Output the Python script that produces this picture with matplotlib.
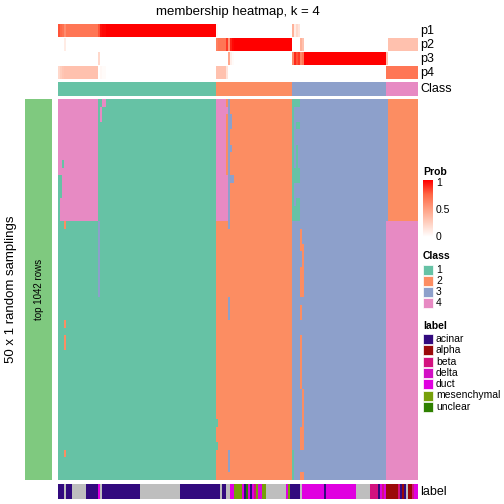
import numpy as np
import matplotlib.pyplot as plt
from matplotlib.colors import ListedColormap, LinearSegmentedColormap
from matplotlib.patches import Rectangle

plt.rcParams['font.family'] = ['Liberation Sans', 'DejaVu Sans']

# ---- data ----
n_rows = 50
# consensus class of each column, as (class, number of columns)
class_runs = [(1, 79), (2, 38), (3, 47), (4, 16)]
# blocks in the sampling matrix that differ from the column class:
# (row_start, row_end, col_start, col_end, class)
overrides = [
    (0, 16, 0, 20, 4), (8, 9, 2, 3, 1), (10, 13, 0, 2, 1), (13, 16, 0, 1, 1),
    (16, 17, 3, 4, 2), (29, 30, 3, 4, 2), (31, 33, 3, 4, 2), (46, 47, 3, 4, 2),
    (16, 26, 20, 21, 3), (1, 3, 21, 22, 4), (0, 1, 22, 24, 4),
    (0, 16, 79, 85, 4), (0, 1, 84, 85, 2), (2, 10, 84, 85, 2),
    (0, 17, 85, 86, 3), (26, 29, 85, 86, 3), (46, 49, 85, 86, 3),
    (2, 4, 86, 87, 3), (6, 7, 86, 87, 3), (10, 11, 86, 88, 3),
    (42, 43, 79, 80, 1), (45, 46, 79, 80, 1),
    (0, 16, 117, 118, 1), (0, 1, 118, 121, 1), (3, 4, 119, 121, 1),
    (6, 9, 119, 120, 1), (9, 11, 118, 121, 1), (13, 16, 119, 121, 1),
    (14, 16, 118, 119, 1), (46, 50, 117, 118, 1),
    (17, 20, 121, 122, 2), (19, 22, 122, 123, 2), (22, 26, 121, 123, 2),
    (27, 29, 121, 122, 2), (31, 38, 121, 122, 2), (38, 43, 122, 123, 2),
    (43, 46, 121, 123, 2), (49, 50, 121, 123, 2),
    (0, 16, 164, 180, 2), (0, 16, 164, 165, 3),
]
label_names = ["acinar", "alpha", "beta", "delta", "duct", "mesenchymal", "unclear"]
label_runs = [
    ("acinar", 3), (None, 1), ("acinar", 3), (None, 7), ("acinar", 6), ("duct", 1),
    (None, 1), ("acinar", 19), (None, 20), ("acinar", 20), (None, 1), ("acinar", 2),
    (None, 2), ("duct", 2), ("mesenchymal", 4), ("duct", 1), ("acinar", 1),
    ("unclear", 1), ("duct", 1), ("acinar", 1), ("duct", 1), ("beta", 1),
    ("mesenchymal", 1), ("duct", 2), ("mesenchymal", 2), (None, 10), ("duct", 1),
    ("mesenchymal", 1), ("acinar", 5), (None, 1), ("duct", 11), ("acinar", 1),
    ("duct", 15), (None, 7), ("beta", 4), ("acinar", 1), ("duct", 1), ("beta", 1),
    ("duct", 1), ("alpha", 6), ("beta", 1), ("acinar", 1), ("alpha", 1),
    ("acinar", 1), (None, 1), ("alpha", 2), ("beta", 1), ("duct", 2),
]

class_colors = ["#66C2A5", "#FC8D62", "#8DA0CB", "#E78AC3"]
label_colors = ["#320A7E", "#9B0A0A", "#D3127F", "#D20EC4", "#E000E0", "#76A00A", "#2E8000"]
na_color = "#BEBEBE"
prob_cmap = LinearSegmentedColormap.from_list(
    "prob", ["#FFFFFF", "#FFCFBF", "#FF9E81", "#FF6846", "#FF0000"])

# ---- build matrices ----
col_class = np.concatenate([[c] * n for c, n in class_runs])
n_cols = len(col_class)
mat = np.tile(col_class, (n_rows, 1))
for r0, r1, c0, c1, k in overrides:
    mat[r0:r1, c0:c1] = k
probs = np.array([(mat == k).mean(axis=0) for k in range(1, 5)])
labels = []
for name, n in label_runs:
    labels += [0 if name is None else label_names.index(name) + 1] * n
labels = np.array(labels)

W, H = 504, 504
fig = plt.figure(figsize=(W / 100, H / 100), dpi=100)


def box(x0, y0, x1, y1):
    return [x0 / W, 1 - y1 / H, (x1 - x0) / W, (y1 - y0) / H]


def strip(rect, data, cmap, vmin, vmax):
    ax = fig.add_axes(box(*rect))
    ax.imshow(data, cmap=cmap, vmin=vmin, vmax=vmax, aspect="auto", interpolation="nearest")
    ax.set_axis_off()
    return ax


hx0, hx1 = 58, 417
class_cmap = ListedColormap(class_colors)
for i in range(4):
    strip((hx0, 24 + 14 * i, hx1, 38 + 14 * i - 0.6), probs[i:i + 1], prob_cmap, 0, 1)
strip((hx0, 82, hx1, 96), col_class[None, :], class_cmap, 0.5, 4.5)
strip((hx0, 99, hx1, 480), mat, class_cmap, 0.5, 4.5)
strip((hx0, 484, hx1, 499), labels[None, :], ListedColormap([na_color] + label_colors), -0.5, 7.5)

# overlay in pixel coordinates for text and legends
ov = fig.add_axes([0, 0, 1, 1])
ov.set_xlim(0, W)
ov.set_ylim(H, 0)
ov.set_axis_off()

ov.text(237.5, 12, "membership heatmap, k = 4", ha="center", va="center", fontsize=9.5)
for i, name in enumerate(["p1", "p2", "p3", "p4"]):
    ov.text(420, 31 + 14 * i, name, ha="left", va="center", fontsize=9)
ov.text(420, 89, "Class", ha="left", va="center", fontsize=9)
ov.text(420, 492, "label", ha="left", va="center", fontsize=9)

ov.add_patch(Rectangle((25, 99), 27, 381, color="#7FC97F", lw=0))
ov.text(38.5, 289.5, "top 1042 rows", rotation=90, ha="center", va="center", fontsize=7)
ov.text(11, 289.5, "50 x 1 random samplings", rotation=90, ha="center", va="center", fontsize=9.5)

# Prob legend
ov.text(423, 172, "Prob", ha="left", va="center", fontsize=7.5, fontweight="bold")
cax = fig.add_axes(box(423, 180, 433, 237))
cax.imshow(np.linspace(1, 0, 100)[:, None], cmap=prob_cmap, aspect="auto", vmin=0, vmax=1)
cax.set_axis_off()
for v, y in [(1, 183), (0.5, 210), (0, 237)]:
    ov.plot([423, 425], [y, y], color="white", lw=0.8)
    ov.plot([431, 433], [y, y], color="white", lw=0.8)
    ov.text(436, y, f"{v:g}", ha="left", va="center", fontsize=7.5)

# Class legend
ov.text(423, 256, "Class", ha="left", va="center", fontsize=7.5, fontweight="bold")
for i, c in enumerate(class_colors):
    y = 265 + 11 * i
    ov.add_patch(Rectangle((423, y), 10, 10, facecolor=c, edgecolor="white", lw=0.5))
    ov.text(436, y + 5, str(i + 1), ha="left", va="center", fontsize=7.5)

# label legend
ov.text(423, 326, "label", ha="left", va="center", fontsize=7.5, fontweight="bold")
for i, (name, c) in enumerate(zip(label_names, label_colors)):
    y = 334 + 11.3 * i
    ov.add_patch(Rectangle((423, y), 10, 10, facecolor=c, edgecolor="white", lw=0.5))
    ov.text(436, y + 5, name, ha="left", va="center", fontsize=7.5)

fig.savefig("out.png", dpi=100)
